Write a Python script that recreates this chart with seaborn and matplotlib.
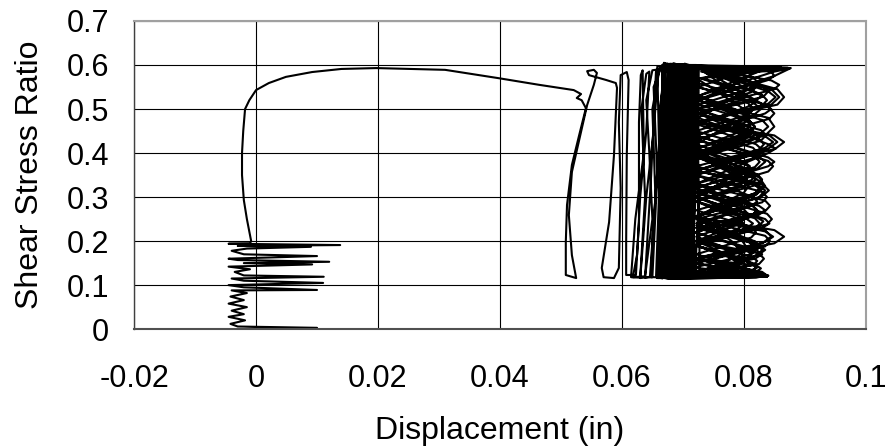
import pandas as pd
import matplotlib
matplotlib.use('Agg')
import matplotlib.pyplot as plt
import seaborn as sns

# Data (displacement in inches, shear stress ratio)
# first part: small cycles around zero, then monotonic loading up to ~0.59
x_first = [-0.0030, 0.0100, -0.0030, -0.0042, -0.0018, -0.0045, -0.0020, -0.0040,
           -0.0015, -0.0045, -0.0020, -0.0042, -0.0015, -0.0040, 0.0100, -0.0020,
           -0.0045, 0.0110, -0.0020, -0.0040, 0.0111, -0.0020, -0.0035, -0.0010,
           -0.0045, 0.0092, -0.0020, 0.0120, -0.0030, -0.0045, 0.0100, -0.0020,
           -0.0040, -0.0015, 0.0090, -0.0030, 0.0138, -0.0045, -0.0010, -0.0008,
           -0.0015, -0.0020, -0.0023, -0.0023, -0.0021, -0.0018, -0.0011, 0.0000,
           0.0021, 0.0049, 0.0092, 0.0140, 0.0197, 0.0310, 0.0398, 0.0464]
y_first = [0.000, 0.003, 0.006, 0.012, 0.020, 0.028, 0.034, 0.042,
           0.050, 0.058, 0.066, 0.074, 0.082, 0.088, 0.089, 0.095,
           0.100, 0.105, 0.110, 0.115, 0.119, 0.122, 0.130, 0.136,
           0.142, 0.147, 0.150, 0.153, 0.157, 0.160, 0.166, 0.170,
           0.178, 0.183, 0.187, 0.189, 0.191, 0.194, 0.195, 0.200,
           0.250, 0.293, 0.350, 0.400, 0.450, 0.500, 0.520, 0.543,
           0.559, 0.573, 0.584, 0.591, 0.593, 0.589, 0.570, 0.555]

# first load cycles between 0.05 and 0.067
x_early = [0.0497, 0.0521, 0.0533, 0.0526, 0.0534, 0.0541, 0.0530, 0.0518, 0.0510,
           0.0508, 0.0508, 0.0525, 0.0518, 0.0513, 0.0518, 0.0533, 0.0543, 0.0554,
           0.0559, 0.0554, 0.0543, 0.0546, 0.0574, 0.0590, 0.0592, 0.0587, 0.0579,
           0.0567, 0.0570, 0.0587, 0.0595, 0.0598, 0.0595, 0.0598, 0.0608, 0.0611,
           0.0608, 0.0607, 0.0607, 0.0623, 0.0628, 0.0628, 0.0631,
           0.0634, 0.0636, 0.0622, 0.0615,
           0.0630, 0.0638, 0.0632, 0.0640,
           0.0645, 0.0640, 0.0630, 0.0625, 0.0618,
           0.0638, 0.0650, 0.0645, 0.0640, 0.0650,
           0.0660, 0.0652, 0.0640, 0.0632, 0.0630,
           0.0646, 0.0655, 0.0650, 0.0662,
           0.0668, 0.0660, 0.0650, 0.0648,
           0.0660, 0.0668, 0.0662, 0.0672,
           0.0656, 0.0648, 0.0638,
           0.0650, 0.0658, 0.0652, 0.0665]
y_early = [0.548, 0.543, 0.534, 0.525, 0.520, 0.502, 0.441, 0.373, 0.282,
           0.198, 0.123, 0.116, 0.168, 0.259, 0.357, 0.448, 0.509, 0.555,
           0.582, 0.589, 0.586, 0.577, 0.566, 0.559, 0.548, 0.395, 0.243,
           0.139, 0.118, 0.116, 0.139, 0.320, 0.470, 0.577, 0.584, 0.566,
           0.395, 0.198, 0.123, 0.123, 0.243, 0.470, 0.577,
           0.588, 0.400, 0.250, 0.118,
           0.117, 0.300, 0.500, 0.580,
           0.585, 0.450, 0.300, 0.170, 0.118,
           0.120, 0.250, 0.400, 0.520, 0.588,
           0.590, 0.450, 0.300, 0.150, 0.116,
           0.119, 0.300, 0.500, 0.592,
           0.595, 0.400, 0.200, 0.118,
           0.118, 0.300, 0.500, 0.595,
           0.588, 0.350, 0.117,
           0.118, 0.350, 0.550, 0.597]

# main body of cycles, nearly vertical strokes between 0.066 and 0.0725
x_dense = [0.0672, 0.0666, 0.0660, 0.0664, 0.0674, 0.0670,
           0.0678, 0.0671, 0.0666, 0.0669, 0.0679, 0.0675,
           0.0683, 0.0677, 0.0672, 0.0674, 0.0684, 0.0680,
           0.0688, 0.0682, 0.0677, 0.0679, 0.0689, 0.0685,
           0.0693, 0.0687, 0.0682, 0.0684, 0.0694, 0.0690,
           0.0698, 0.0692, 0.0687, 0.0689, 0.0699, 0.0695,
           0.0703, 0.0697, 0.0692, 0.0694, 0.0704, 0.0700,
           0.0708, 0.0702, 0.0697, 0.0699, 0.0709, 0.0705,
           0.0713, 0.0707, 0.0702, 0.0704, 0.0714, 0.0710,
           0.0718, 0.0712, 0.0707, 0.0709, 0.0719, 0.0715,
           0.0722, 0.0717, 0.0712, 0.0714, 0.0723, 0.0719,
           0.0725, 0.0721, 0.0716, 0.0720, 0.0726, 0.0722,
           0.0668, 0.0660, 0.0663, 0.0667, 0.0663, 0.0669,
           0.0676, 0.0669, 0.0674, 0.0678, 0.0672, 0.0679,
           0.0686, 0.0680, 0.0684, 0.0688, 0.0683, 0.0690,
           0.0696, 0.0690, 0.0694, 0.0698, 0.0693, 0.0700,
           0.0706, 0.0700, 0.0704, 0.0708, 0.0703, 0.0710,
           0.0716, 0.0710, 0.0714, 0.0718, 0.0712, 0.0716]
y_dense = [0.598, 0.350, 0.117, 0.118, 0.300, 0.600,
           0.596, 0.420, 0.115, 0.119, 0.250, 0.603,
           0.599, 0.380, 0.118, 0.116, 0.450, 0.601,
           0.597, 0.300, 0.120, 0.117, 0.350, 0.604,
           0.600, 0.400, 0.116, 0.118, 0.280, 0.598,
           0.596, 0.330, 0.119, 0.115, 0.420, 0.602,
           0.601, 0.450, 0.117, 0.120, 0.300, 0.599,
           0.597, 0.260, 0.114, 0.118, 0.380, 0.600,
           0.598, 0.350, 0.121, 0.117, 0.440, 0.596,
           0.595, 0.400, 0.118, 0.119, 0.320, 0.597,
           0.594, 0.300, 0.120, 0.122, 0.360, 0.593,
           0.592, 0.420, 0.123, 0.121, 0.300, 0.590,
           0.602, 0.380, 0.116, 0.117, 0.320, 0.605,
           0.600, 0.280, 0.118, 0.115, 0.430, 0.603,
           0.599, 0.350, 0.117, 0.119, 0.260, 0.601,
           0.598, 0.440, 0.120, 0.118, 0.330, 0.600,
           0.597, 0.300, 0.119, 0.121, 0.400, 0.596,
           0.595, 0.360, 0.120, 0.122, 0.280, 0.594]

# later cycles: loops reaching out to ~0.087
x_late = [0.0668, 0.0662, 0.0658,
          0.0672, 0.0680, 0.0676,
          0.0690, 0.0684, 0.0670,
          0.0685, 0.0695, 0.0688,
          0.0700, 0.0694, 0.0680,
          0.0705, 0.0790, 0.0805, 0.0795, 0.0718, 0.0820, 0.0835, 0.0825, 0.0720,
          0.0835, 0.0850, 0.0840, 0.0722, 0.0850, 0.0877, 0.0700,
          0.0697, 0.0690,
          0.0702, 0.0708, 0.0703,
          0.0715, 0.0855, 0.0866, 0.0855, 0.0725, 0.0850, 0.0866, 0.0852, 0.0722,
          0.0830, 0.0841, 0.0828, 0.0720, 0.0850, 0.0866, 0.0850, 0.0718, 0.0830,
          0.0838, 0.0820, 0.0675,
          0.0665, 0.0672, 0.0668, 0.0680,
          0.0692, 0.0700, 0.0695,
          0.0712, 0.0800, 0.0810, 0.0800, 0.0722, 0.0805, 0.0815, 0.0805, 0.0722,
          0.0810, 0.0820, 0.0810, 0.0724, 0.0815, 0.0825, 0.0815, 0.0725, 0.0820,
          0.0830, 0.0815, 0.0730, 0.0860, 0.0710,
          0.0706, 0.0712,
          0.0700, 0.0690, 0.0697,
          0.0720, 0.0722, 0.0835, 0.0845, 0.0835, 0.0722, 0.0840, 0.0850, 0.0840,
          0.0720, 0.0825, 0.0835, 0.0825, 0.0720, 0.0820, 0.0830, 0.0818, 0.0715,
          0.0690,
          0.0675, 0.0683, 0.0678, 0.0686,
          0.0695, 0.0688, 0.0700,
          0.0716, 0.0790, 0.0720, 0.0830, 0.0845, 0.0835, 0.0722, 0.0825, 0.0835,
          0.0822, 0.0722, 0.0840, 0.0855, 0.0842, 0.0725, 0.0845, 0.0858, 0.0845,
          0.0740, 0.0870, 0.0705,
          0.0712, 0.0705,
          0.0712, 0.0718, 0.0710,
          0.0725, 0.0845, 0.0850, 0.0838, 0.0725, 0.0830, 0.0840, 0.0828, 0.0722,
          0.0822, 0.0832, 0.0820, 0.0720, 0.0815, 0.0825, 0.0812, 0.0718, 0.0830,
          0.0838, 0.0690,
          0.0660, 0.0668, 0.0664, 0.0670,
          0.0683, 0.0676, 0.0665,
          0.0708, 0.0800, 0.0812, 0.0800, 0.0720, 0.0810, 0.0822, 0.0810, 0.0720,
          0.0822, 0.0835, 0.0822, 0.0722, 0.0815, 0.0828, 0.0815, 0.0725, 0.0800,
          0.0860, 0.0715,
          0.0718, 0.0708,
          0.0720, 0.0780, 0.0790, 0.0778, 0.0722, 0.0790, 0.0800, 0.0788, 0.0722,
          0.0795, 0.0805, 0.0792, 0.0724, 0.0790, 0.0800, 0.0788, 0.0725, 0.0795,
          0.0805, 0.0790, 0.0728, 0.0840, 0.0700,
          0.0695, 0.0702,
          0.0690, 0.0700, 0.0694,
          0.0720, 0.0840, 0.0852, 0.0840, 0.0725, 0.0835, 0.0848, 0.0835, 0.0722,
          0.0818, 0.0828, 0.0815, 0.0720, 0.0835, 0.0848, 0.0835, 0.0718, 0.0825,
          0.0835, 0.0660,
          0.0656, 0.0662, 0.0658,
          0.0666, 0.0673, 0.0668,
          0.0678, 0.0672, 0.0682,
          0.0692, 0.0686, 0.0696,
          0.0710, 0.0703, 0.0714,
          0.0720, 0.0714, 0.0722,
          0.0725, 0.0770, 0.0785, 0.0790, 0.0780, 0.0722, 0.0800, 0.0808, 0.0798,
          0.0722, 0.0810, 0.0818, 0.0808, 0.0725, 0.0800, 0.0820, 0.0726,
          0.0725, 0.0728, 0.0835,
          0.0720, 0.0815, 0.0822, 0.0812, 0.0722, 0.0825, 0.0832, 0.0820, 0.0722,
          0.0800, 0.0808, 0.0798, 0.0724, 0.0805, 0.0812, 0.0800, 0.0726, 0.0830,
          0.0720,
          0.0722, 0.0810, 0.0818, 0.0806, 0.0724, 0.0820, 0.0828, 0.0818, 0.0722,
          0.0815, 0.0822, 0.0812, 0.0722, 0.0808, 0.0815, 0.0805, 0.0720, 0.0800,
          0.0832, 0.0700,
          0.0724, 0.0825, 0.0835, 0.0825, 0.0722, 0.0790, 0.0798, 0.0788, 0.0722,
          0.0840, 0.0852, 0.0840, 0.0725, 0.0808, 0.0815, 0.0805, 0.0730, 0.0865,
          0.0710,
          0.0722, 0.0800, 0.0808, 0.0798, 0.0722, 0.0800, 0.0810, 0.0800, 0.0720,
          0.0835, 0.0842, 0.0830, 0.0720, 0.0815, 0.0822, 0.0810, 0.0720, 0.0838,
          0.0840]
y_late = [0.400, 0.200, 0.116,
          0.118, 0.350, 0.597,
          0.598, 0.350, 0.118,
          0.116, 0.300, 0.600,
          0.596, 0.400, 0.120,
          0.118, 0.165, 0.185, 0.205, 0.255, 0.305, 0.325, 0.345, 0.395,
          0.440, 0.460, 0.480, 0.520, 0.575, 0.593, 0.597,
          0.400, 0.118,
          0.118, 0.350, 0.603,
          0.598, 0.545, 0.527, 0.510, 0.470, 0.440, 0.425, 0.410, 0.360,
          0.330, 0.315, 0.300, 0.255, 0.225, 0.210, 0.195, 0.160, 0.130,
          0.122, 0.117, 0.115,
          0.118, 0.300, 0.500, 0.600,
          0.596, 0.350, 0.118,
          0.120, 0.140, 0.150, 0.160, 0.190, 0.230, 0.240, 0.250, 0.290,
          0.330, 0.340, 0.350, 0.390, 0.430, 0.440, 0.450, 0.490, 0.520,
          0.530, 0.540, 0.570, 0.590, 0.596,
          0.350, 0.118,
          0.118, 0.350, 0.598,
          0.596, 0.550, 0.510, 0.500, 0.490, 0.440, 0.390, 0.380, 0.370,
          0.320, 0.280, 0.270, 0.260, 0.220, 0.180, 0.170, 0.160, 0.130,
          0.117,
          0.117, 0.300, 0.500, 0.601,
          0.598, 0.300, 0.116,
          0.118, 0.140, 0.160, 0.195, 0.210, 0.225, 0.255, 0.300, 0.315,
          0.330, 0.360, 0.410, 0.425, 0.440, 0.470, 0.510, 0.527, 0.545,
          0.580, 0.592, 0.598,
          0.350, 0.117,
          0.117, 0.350, 0.600,
          0.597, 0.585, 0.575, 0.565, 0.520, 0.475, 0.460, 0.445, 0.395,
          0.340, 0.325, 0.310, 0.255, 0.200, 0.185, 0.170, 0.140, 0.122,
          0.119, 0.114,
          0.117, 0.300, 0.450, 0.604,
          0.600, 0.350, 0.118,
          0.117, 0.155, 0.170, 0.185, 0.220, 0.255, 0.270, 0.285, 0.320,
          0.365, 0.380, 0.395, 0.440, 0.485, 0.500, 0.515, 0.550, 0.585,
          0.594, 0.597,
          0.350, 0.118,
          0.120, 0.140, 0.150, 0.162, 0.190, 0.228, 0.240, 0.252, 0.290,
          0.328, 0.340, 0.352, 0.390, 0.428, 0.440, 0.452, 0.490, 0.520,
          0.530, 0.542, 0.570, 0.592, 0.600,
          0.300, 0.117,
          0.118, 0.400, 0.602,
          0.596, 0.540, 0.527, 0.512, 0.470, 0.438, 0.425, 0.412, 0.360,
          0.328, 0.315, 0.302, 0.255, 0.222, 0.210, 0.198, 0.160, 0.128,
          0.120, 0.116,
          0.118, 0.350, 0.596,
          0.598, 0.300, 0.117,
          0.116, 0.400, 0.603,
          0.600, 0.250, 0.118,
          0.119, 0.350, 0.597,
          0.592, 0.300, 0.120,
          0.118, 0.150, 0.175, 0.185, 0.200, 0.255, 0.310, 0.325, 0.340,
          0.395, 0.445, 0.460, 0.475, 0.520, 0.565, 0.590, 0.592,
          0.350, 0.118, 0.121,
          0.125, 0.145, 0.155, 0.165, 0.200, 0.235, 0.245, 0.255, 0.300,
          0.345, 0.355, 0.365, 0.410, 0.455, 0.465, 0.475, 0.530, 0.588,
          0.598,
          0.560, 0.525, 0.515, 0.505, 0.465, 0.420, 0.410, 0.400, 0.350,
          0.300, 0.290, 0.280, 0.235, 0.200, 0.190, 0.180, 0.150, 0.128,
          0.120, 0.118,
          0.122, 0.170, 0.180, 0.190, 0.240, 0.270, 0.280, 0.290, 0.330,
          0.400, 0.410, 0.420, 0.480, 0.545, 0.555, 0.565, 0.585, 0.593,
          0.598,
          0.570, 0.500, 0.490, 0.480, 0.420, 0.380, 0.370, 0.360, 0.300,
          0.250, 0.240, 0.230, 0.190, 0.150, 0.140, 0.132, 0.124, 0.119,
          0.122]

# last cycles: rounded loops filling the band 0.072-0.085
x_loops = [0.0722, 0.0795, 0.0803, 0.0795, 0.0722, 0.0800, 0.0808, 0.0800, 0.0722,
           0.0805, 0.0813, 0.0805, 0.0724, 0.0810, 0.0818, 0.0810, 0.0726, 0.0815,
           0.0823, 0.0815, 0.0740,
           0.0712, 0.0706, 0.0716,
           0.0722, 0.0812, 0.0820, 0.0812, 0.0722, 0.0818, 0.0826, 0.0818, 0.0722,
           0.0822, 0.0830, 0.0822, 0.0724, 0.0828, 0.0836, 0.0828, 0.0726, 0.0832,
           0.0840, 0.0830, 0.0760, 0.0872,
           0.0708, 0.0712, 0.0700,
           0.0722, 0.0830, 0.0838, 0.0830, 0.0722, 0.0825, 0.0833, 0.0825, 0.0722,
           0.0818, 0.0826, 0.0818, 0.0722, 0.0812, 0.0820, 0.0812, 0.0722, 0.0810,
           0.0830, 0.0690,
           0.0668, 0.0676, 0.0670,
           0.0722, 0.0808, 0.0816, 0.0808, 0.0722, 0.0815, 0.0823, 0.0815, 0.0722,
           0.0830, 0.0838, 0.0830, 0.0722, 0.0835, 0.0843, 0.0835, 0.0722, 0.0820,
           0.0836, 0.0700,
           0.0690, 0.0682, 0.0692,
           0.0722, 0.0822, 0.0830, 0.0822, 0.0722, 0.0835, 0.0843, 0.0835, 0.0722,
           0.0818, 0.0826, 0.0818, 0.0724, 0.0800, 0.0808, 0.0800, 0.0726, 0.0850,
           0.0875,
           0.0715, 0.0720, 0.0712,
           0.0722, 0.0785, 0.0792, 0.0785, 0.0722, 0.0790, 0.0797, 0.0790, 0.0722,
           0.0788, 0.0795, 0.0788, 0.0724, 0.0792, 0.0799, 0.0792, 0.0726, 0.0850,
           0.0858, 0.0845, 0.0740, 0.0860,
           0.0700, 0.0694, 0.0704,
           0.0722, 0.0842, 0.0850, 0.0842, 0.0722, 0.0840, 0.0848, 0.0840, 0.0722,
           0.0838, 0.0846, 0.0838, 0.0722, 0.0825, 0.0833, 0.0825, 0.0722, 0.0835,
           0.0680,
           0.0662, 0.0670, 0.0666,
           0.0722, 0.0812, 0.0820, 0.0812, 0.0722, 0.0808, 0.0815, 0.0808, 0.0722,
           0.0812, 0.0820, 0.0812, 0.0722, 0.0815, 0.0822, 0.0815, 0.0722, 0.0818,
           0.0825, 0.0818, 0.0722, 0.0820, 0.0828, 0.0820, 0.0840]
y_loops = [0.118, 0.148, 0.160, 0.172, 0.210, 0.248, 0.260, 0.272, 0.310,
           0.348, 0.360, 0.372, 0.410, 0.448, 0.460, 0.472, 0.510, 0.548,
           0.560, 0.572, 0.595,
           0.600, 0.350, 0.117,
           0.118, 0.130, 0.140, 0.150, 0.190, 0.228, 0.240, 0.252, 0.290,
           0.328, 0.340, 0.352, 0.390, 0.428, 0.440, 0.452, 0.490, 0.528,
           0.540, 0.552, 0.590, 0.594,
           0.598, 0.300, 0.117,
           0.598, 0.532, 0.520, 0.508, 0.470, 0.432, 0.420, 0.408, 0.370,
           0.332, 0.320, 0.308, 0.270, 0.232, 0.220, 0.208, 0.170, 0.135,
           0.122, 0.116,
           0.117, 0.400, 0.600,
           0.597, 0.512, 0.500, 0.488, 0.450, 0.412, 0.400, 0.388, 0.350,
           0.312, 0.300, 0.288, 0.250, 0.212, 0.200, 0.188, 0.150, 0.125,
           0.120, 0.117,
           0.118, 0.300, 0.602,
           0.120, 0.168, 0.180, 0.192, 0.230, 0.268, 0.280, 0.292, 0.330,
           0.368, 0.380, 0.392, 0.430, 0.468, 0.480, 0.492, 0.530, 0.585,
           0.592,
           0.598, 0.350, 0.118,
           0.118, 0.138, 0.150, 0.162, 0.200, 0.238, 0.250, 0.262, 0.300,
           0.338, 0.350, 0.362, 0.400, 0.438, 0.450, 0.462, 0.500, 0.545,
           0.555, 0.565, 0.590, 0.596,
           0.600, 0.350, 0.118,
           0.598, 0.502, 0.490, 0.478, 0.430, 0.382, 0.370, 0.358, 0.310,
           0.262, 0.250, 0.238, 0.200, 0.172, 0.160, 0.148, 0.128, 0.121,
           0.117,
           0.118, 0.350, 0.600,
           0.600, 0.562, 0.550, 0.538, 0.500, 0.462, 0.450, 0.438, 0.400,
           0.362, 0.350, 0.338, 0.310, 0.280, 0.270, 0.260, 0.230, 0.200,
           0.190, 0.180, 0.160, 0.145, 0.138, 0.130, 0.121]

x_ticks = [-0.02, 0, 0.02, 0.04, 0.06, 0.08, 0.1]
x_tick_labels = ['-0.02', '0', '0.02', '0.04', '0.06', '0.08', '0.1']
y_ticks = [0, 0.1, 0.2, 0.3, 0.4, 0.5, 0.6, 0.7]
y_tick_labels = ['0', '0.1', '0.2', '0.3', '0.4', '0.5', '0.6', '0.7']

df = pd.DataFrame({
    'Displacement': x_first + x_early + x_dense + x_late + x_loops,
    'Ratio': y_first + y_early + y_dense + y_late + y_loops,
})

sns.set_style('white')
plt.rcParams['font.family'] = ['Liberation Sans', 'DejaVu Sans']

fig, ax = plt.subplots(figsize=(8.88, 4.46), dpi=100)
fig.subplots_adjust(left=0.151, right=0.975, top=0.953, bottom=0.262)

sns.lineplot(data=df, x='Displacement', y='Ratio', sort=False, estimator=None,
             color='black', linewidth=1.5, ax=ax)

ax.set_xlim(-0.02, 0.1)
ax.set_ylim(0, 0.7)
ax.set_xticks(x_ticks)
ax.set_xticklabels(x_tick_labels)
ax.set_yticks(y_ticks)
ax.set_yticklabels(y_tick_labels)
ax.grid(True, color='black', linewidth=0.8)
ax.set_axisbelow(True)

ax.tick_params(axis='both', direction='inout', length=14, width=0.8,
               color='#404040', labelsize=22, labelcolor='black')
ax.tick_params(axis='x', pad=18)
ax.tick_params(axis='y', pad=11)

for side in ['top', 'right']:
    ax.spines[side].set_color('#a0a0a0')
    ax.spines[side].set_linewidth(1.5)
ax.spines['left'].set_color('#404040')
ax.spines['left'].set_linewidth(1.0)
ax.spines['bottom'].set_color('#505050')
ax.spines['bottom'].set_linewidth(1.5)

ax.set_xlabel('Displacement (in)', fontsize=23, color='black')
ax.set_ylabel('Shear Stress Ratio', fontsize=23, color='black')
ax.xaxis.label.set_va('center')
ax.yaxis.label.set_va('center')
ax.xaxis.set_label_coords(0.5, -0.33)
ax.yaxis.set_label_coords(-0.142, 0.5)

plt.savefig('out.png', dpi=100)
plt.close()
